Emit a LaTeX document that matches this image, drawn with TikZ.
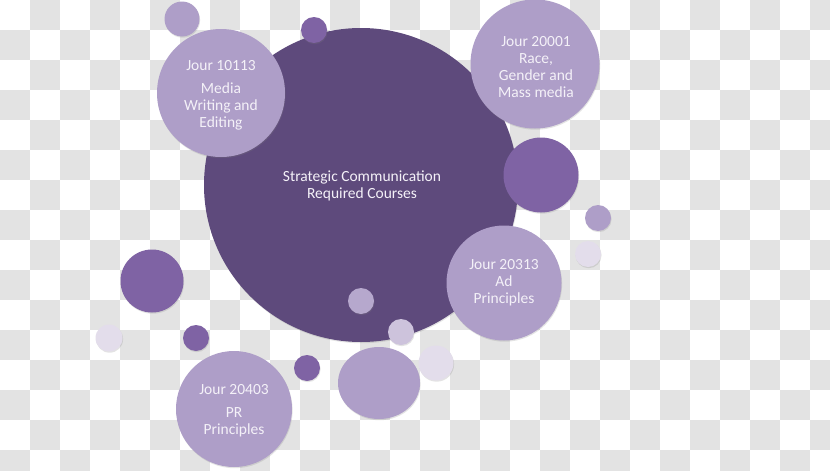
\documentclass[tikz,border=0pt]{standalone}
\usepackage{fontspec}
\setmainfont{Carlito}
\usetikzlibrary{shadows,shapes.geometric}
\definecolor{checkgray}{HTML}{E3E3E3}
\definecolor{darkpurple}{HTML}{5E4A7C}
\definecolor{midpurple}{HTML}{7F63A4}
\definecolor{lightpurple}{HTML}{AE9EC8}
\definecolor{lighterpurple}{HTML}{CDC3DC}
\definecolor{palepurple}{HTML}{E3DDEB}
\definecolor{txtcol}{HTML}{F4F1F8}
\tikzset{
  bubble/.style={circle, inner sep=0pt, minimum size=#1, draw=none,
    drop shadow={opacity=0.22, shadow xshift=0.6pt, shadow yshift=-1.2pt}},
  coursetext/.style={text=txtcol, align=center, font=\fontsize{15.5}{17}\selectfont, inner sep=0pt}
}
\begin{document}
\begin{tikzpicture}[x=1pt,y=-1pt]
\useasboundingbox (0,0) rectangle (830,471);
% checkerboard background
\begin{scope}
\clip (0,0) rectangle (830,471);
\fill[white] (0,0) rectangle (830,471);
\foreach \i in {0,...,27}{
  \foreach \j in {0,...,15}{
    \pgfmathtruncatemacro{\parity}{mod(\i+\j,2)}
    \ifnum\parity=1
      \fill[checkgray] (\i*30,\j*30) rectangle ++(30,30);
    \fi
  }
}
\end{scope}
% main circle
\node[bubble=314pt, fill=darkpurple] (main) at (361,185) {};
% small decorative circles
\node[bubble=35pt, fill=lightpurple] (s1) at (182,19) {};
\node[bubble=26pt, fill=midpurple] (s2) at (314,30) {};
\node[bubble=75pt, fill=midpurple] (s3) at (541,175) {};
\node[bubble=26pt, fill=lightpurple] (s4) at (598,218) {};
\node[bubble=26pt, fill=palepurple] (s5) at (588,254) {};
\node[bubble=63pt, fill=midpurple] (s6) at (152,281) {};
\node[bubble=27pt, fill=palepurple] (s7) at (109,338) {};
\node[bubble=26pt, fill=midpurple] (s8) at (196,338) {};
\node[bubble=26pt, fill=midpurple] (s9) at (307,368) {};
\node[bubble=26pt, fill=lightpurple!90!white] (s10) at (361,301) {};
\node[bubble=26pt, fill=lighterpurple] (s11) at (401,332) {};
\node[ellipse, inner sep=0pt, minimum width=82pt, minimum height=72pt, fill=lightpurple,
  drop shadow={opacity=0.22, shadow xshift=0.6pt, shadow yshift=-1.2pt}] (s12) at (379,383) {};
\node[bubble=35pt, fill=palepurple] (s13) at (436,363) {};
% course circles
\node[bubble=128pt, fill=lightpurple] (c1) at (221,93) {};
\node[bubble=129pt, fill=lightpurple] (c2) at (535,64) {};
\node[bubble=115pt, fill=lightpurple] (c3) at (504,283) {};
\node[bubble=116pt, fill=lightpurple] (c4) at (234,409) {};
% texts
\node[coursetext] (tmain) at (362,186) {Strategic Communication\\Required Courses};
\node[coursetext] (t1) at (221,95) {Jour 10113\\[6pt]Media\\Writing and\\Editing};
\node[coursetext] (t2) at (536,67) {Jour 20001\\Race,\\Gender and\\Mass media};
\node[coursetext] (t3) at (504,283) {Jour 20313\\Ad\\Principles};
\node[coursetext] (t4) at (234,411) {Jour 20403\\[6pt]PR\\Principles};
\end{tikzpicture}
\end{document}
